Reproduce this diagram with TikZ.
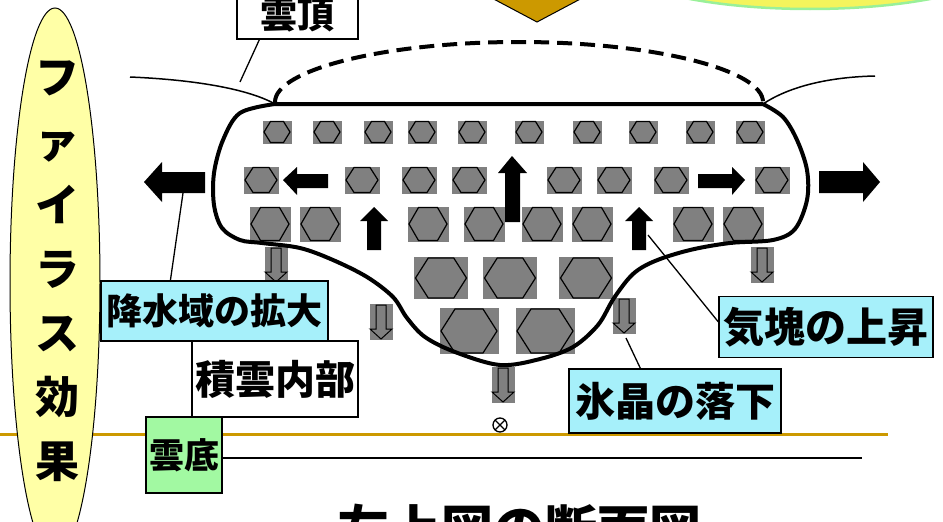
\documentclass[tikz,border=0pt]{standalone}
\usepackage{fontspec}
\usetikzlibrary{shapes.geometric}
\setmainfont{Noto Sans CJK JP}
\definecolor{crystalgray}{HTML}{808080}
\definecolor{labelcyan}{HTML}{A6F0FA}
\definecolor{labelgreen}{HTML}{A2F9A2}
\definecolor{effectyellow}{HTML}{FFFFA6}
\definecolor{goldline}{HTML}{CC9900}
\definecolor{sunyellow}{HTML}{F4F45C}
\definecolor{sunrim}{HTML}{99F099}

% one ice crystal: grey backing square with a hexagon on it
% #1,#2 centre, #3 width, #4 height
\newcommand\crystal[4]{%
  \fill[crystalbg] (#1-#3/2-1.5,#2-#4/2-1) rectangle (#1+#3/2+1.5,#2+#4/2+1);
  \draw[crystal] (#1-#3/2,#2) -- (#1-#3/4,#2-#4/2) -- (#1+#3/4,#2-#4/2)
    -- (#1+#3/2,#2) -- (#1+#3/4,#2+#4/2) -- (#1-#3/4,#2+#4/2) -- cycle;}

% hollow falling arrow, #1 centre x, #2 top y
\newcommand\dropmark[2]{%
  \fill[crystalbg] (#1-11.5,#2) rectangle (#1+11.5,#2+36);
  \draw[drop] (#1-5,#2+1) -- (#1+5,#2+1) -- (#1+5,#2+25) -- (#1+11,#2+25)
    -- (#1,#2+35) -- (#1-11,#2+25) -- (#1-5,#2+25) -- cycle;}

\newcommand\fsz[1]{\bfseries\fontsize{#1}{#1}\selectfont}

\begin{document}
\begin{tikzpicture}[x=1pt,y=-1pt,
  crystalbg/.style={fill=crystalgray},
  crystal/.style={draw=black,fill=crystalgray,line width=1.2pt,line join=miter},
  drop/.style={draw=black,fill=crystalgray,line width=1pt},
  solidarrow/.style={fill=black},
  cloudedge/.style={line width=4pt,line join=round},
  cloudtop/.style={line width=4pt,dash pattern=on 15pt off 8pt},
  thinline/.style={line width=1.5pt},
  leader/.style={line width=1.3pt},
  tag/.style={draw=black,line width=1.2pt,inner sep=0pt,text=black}]

\useasboundingbox (0,0) rectangle (943,522);
\clip (0,0) rectangle (943,522);

% sun at the top right and the sinking arrow head
\draw[sunrim,fill=sunyellow,line width=2.5pt] (810,-41) ellipse[x radius=200pt,y radius=50pt];
\draw[fill=goldline,line width=1pt] (488,-4) -- (586,-4) -- (537,22) -- cycle;

% ground lines
\draw[goldline,line width=3pt] (0,434) -- (888,434);
\draw[line width=1.6pt] (222,458) -- (862,458);

% ice crystals, layer by layer
\foreach \cx in {277,327,378,422,472,529,587,643,700,750} \crystal{\cx}{132}{26}{21};
\foreach \cx in {261,362,419,469,564,614,671,772} \crystal{\cx}{180}{32}{25};
\foreach \cx in {270,320,428,484,542,592,693,743} \crystal{\cx}{224}{38}{33};
\foreach \cx in {441,510,586} \crystal{\cx}{278}{51}{40};
\foreach \cx in {469,545} \crystal{\cx}{331}{56}{44};

% falling crystals
\dropmark{276}{247}
\dropmark{381}{304}
\dropmark{762}{247}
\dropmark{624}{298}
\dropmark{503}{367}

% air motion inside the cloud
\fill[solidarrow] (283,180) -- (297,167) -- (297,174) -- (328,174) -- (328,188) -- (297,188) -- (297,195) -- cycle;
\fill[solidarrow] (745,180) -- (732,167) -- (732,174) -- (698,174) -- (698,188) -- (732,188) -- (732,195) -- cycle;
\fill[solidarrow] (512,156) -- (527,173) -- (520,173) -- (520,222) -- (505,222) -- (505,173) -- (498,173) -- cycle;
\fill[solidarrow] (374,207) -- (388,221) -- (381,221) -- (381,250) -- (367,250) -- (367,221) -- (360,221) -- cycle;
\fill[solidarrow] (639,207) -- (653,221) -- (646,221) -- (646,250) -- (632,250) -- (632,221) -- (625,221) -- cycle;

% outflow at the anvil edges
\fill[solidarrow] (144,182) -- (162,162) -- (162,172) -- (205,172) -- (205,193) -- (162,193) -- (162,202) -- cycle;
\fill[solidarrow] (880,182) -- (863,162) -- (863,171) -- (819,171) -- (819,193) -- (863,193) -- (863,202) -- cycle;

% cloud outline
\draw[cloudedge] (763,104) -- plot[smooth,tension=0.55] coordinates {
  (275,104) (240,113) (223,140) (214,173) (214,205) (222,228) (240,240)
  (262,243) (300,248) (333,260) (367,277) (393,297) (407,318) (425,337)
  (455,352) (500,365) (540,359) (573,347) (598,325) (614,298) (633,274)
  (655,261) (690,250) (730,243) (773,240) (795,229) (807,200) (807,170)
  (797,140) (783,117) (763,104)};
\draw[cloudtop] (275,102) .. controls (275,70) and (384,42) .. (519,42)
  .. controls (654,42) and (763,70) .. (763,102);
\draw[thinline] (130,77) .. controls (200,80) and (250,90) .. (275,104);
\draw[thinline] (763,104) .. controls (790,86) and (830,77) .. (875,76);

% point on the ground
\coordinate (groundpt) at (500,425);
\draw[line width=1.3pt] (groundpt) circle[radius=7pt];
\draw[line width=1.3pt] ([shift={(-5,-5)}]groundpt) -- ([shift={(5,5)}]groundpt)
  ([shift={(-5,5)}]groundpt) -- ([shift={(5,-5)}]groundpt);

% leader ends
\coordinate (topend) at (240,82);
\coordinate (outend) at (183,193);
\coordinate (riseend) at (648,235);
\coordinate (fallend) at (626,338);

% labels
\node[draw=black,line width=1pt,fill=effectyellow,ellipse,minimum width=90pt,minimum height=550pt,inner sep=0pt] (effect) at (55,283) {};
\node[align=center,font=\bfseries\fontsize{44}{64}\selectfont] (effecttext) at (57,271)
  {フ\\ァ\\イ\\ラ\\ス\\効\\果};

\node[tag,fill=white,minimum width=121pt,minimum height=48pt,font=\fsz{37}] (cloudtoplabel) at (297.5,15) {雲頂};
\draw[leader] ([xshift=23pt]cloudtoplabel.south west) -- (topend);

\node[tag,fill=labelcyan,minimum width=227pt,minimum height=60pt,font=\fsz{36}] (rainarea) at (214.5,311) {降水域の拡大};
\draw[leader] ([xshift=70pt]rainarea.north west) -- (outend);

\node[tag,fill=white,minimum width=166pt,minimum height=76pt,font=\fsz{40}] (inside) at (275,379) {積雲内部};
\node[tag,fill=labelgreen,minimum width=76pt,minimum height=76pt,font=\fsz{35}] (base) at (184,455) {雲底};

\node[tag,fill=labelcyan,minimum width=214pt,minimum height=61pt,font=\fsz{41}] (rise) at (826,327) {気塊の上昇};
\draw[leader] (rise.west |- 0,322) -- (riseend);

\node[tag,fill=labelcyan,minimum width=212pt,minimum height=64pt,font=\fsz{40}] (fall) at (675,401) {氷晶の落下};
\draw[leader] ([xshift=72pt]fall.north west) -- (fallend);

\node[font=\fsz{52}] (caption) at (519,529) {左上図の断面図};
\end{tikzpicture}
\end{document}
